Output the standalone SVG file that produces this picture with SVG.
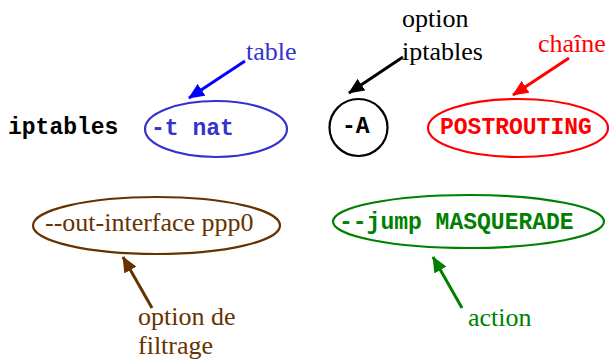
<svg xmlns="http://www.w3.org/2000/svg" width="609" height="360" viewBox="0 0 609 360">
<style>
.mono{font-family:"Liberation Mono","Courier New",monospace;font-weight:bold;font-size:23px}
.serif{font-family:"Liberation Serif","Times New Roman",serif;font-size:26px}
.node{fill:none;stroke-width:2.2}
.conn{stroke-width:3;fill:none}
</style>
<defs>
<marker id="ah-blue" markerUnits="userSpaceOnUse" markerWidth="16" markerHeight="14" refX="15" refY="7" orient="auto"><path d="M0,0 L16,7 L0,14 Z" fill="#0000ff"/></marker>
<marker id="ah-black" markerUnits="userSpaceOnUse" markerWidth="16" markerHeight="14" refX="15" refY="7" orient="auto"><path d="M0,0 L16,7 L0,14 Z" fill="#000000"/></marker>
<marker id="ah-red" markerUnits="userSpaceOnUse" markerWidth="16" markerHeight="14" refX="15" refY="7" orient="auto"><path d="M0,0 L16,7 L0,14 Z" fill="#ff0000"/></marker>
<marker id="ah-brown" markerUnits="userSpaceOnUse" markerWidth="16" markerHeight="14" refX="15" refY="7" orient="auto"><path d="M0,0 L16,7 L0,14 Z" fill="#663300"/></marker>
<marker id="ah-green" markerUnits="userSpaceOnUse" markerWidth="16" markerHeight="14" refX="15" refY="7" orient="auto"><path d="M0,0 L16,7 L0,14 Z" fill="#008000"/></marker>
</defs>
<rect width="609" height="360" fill="#ffffff"/>
<g id="iptables"><text class="mono" x="8" y="134" fill="#000000">iptables</text></g>
<g id="table-node"><ellipse class="node" cx="216" cy="129" rx="71" ry="28" stroke="#3333cc"/><text class="mono" x="151" y="135" fill="#3333cc">-t nat</text></g>
<g id="A-node"><ellipse class="node" cx="358.5" cy="127.5" rx="29" ry="28.5" stroke="#000000"/><text class="mono" x="342" y="133" fill="#000000">-A</text></g>
<g id="chain-node"><ellipse class="node" cx="518" cy="128" rx="90" ry="29" stroke="#ff0000"/><text class="mono" x="440" y="134" fill="#ff0000">POSTROUTING</text></g>
<g id="filter-node"><ellipse class="node" cx="156.5" cy="225.5" rx="123.5" ry="28.5" stroke="#663300"/><text class="serif" x="45" y="231" fill="#663300">--out-interface ppp0</text></g>
<g id="action-node"><ellipse class="node" cx="468.5" cy="221.5" rx="135.5" ry="26.5" stroke="#008000"/><text class="mono" x="339" y="229" fill="#008000">--jump MASQUERADE</text></g>
<g id="label-table"><text class="serif" x="246" y="60" fill="#3333cc">table</text></g>
<g id="label-option"><text class="serif" x="402" y="27" fill="#000000">option</text><text class="serif" x="402" y="60" fill="#000000">iptables</text></g>
<g id="label-chaine"><text class="serif" x="538" y="52" fill="#ff0000">chaîne</text></g>
<g id="label-filtrage"><text class="serif" x="138" y="325" fill="#663300">option de</text><text class="serif" x="138" y="354" fill="#663300">filtrage</text></g>
<g id="label-action"><text class="serif" x="468" y="326" fill="#008000">action</text></g>
<g id="connectors">
<line class="conn" x1="245" y1="61" x2="189" y2="98" stroke="#0000ff" marker-end="url(#ah-blue)"/>
<line class="conn" x1="403" y1="57" x2="349" y2="93" stroke="#000000" marker-end="url(#ah-black)"/>
<line class="conn" x1="569" y1="58" x2="513" y2="95" stroke="#ff0000" marker-end="url(#ah-red)"/>
<line class="conn" x1="152" y1="308" x2="123" y2="257" stroke="#663300" marker-end="url(#ah-brown)"/>
<line class="conn" x1="462" y1="308" x2="433" y2="257" stroke="#008000" marker-end="url(#ah-green)"/>
</g>
</svg>
